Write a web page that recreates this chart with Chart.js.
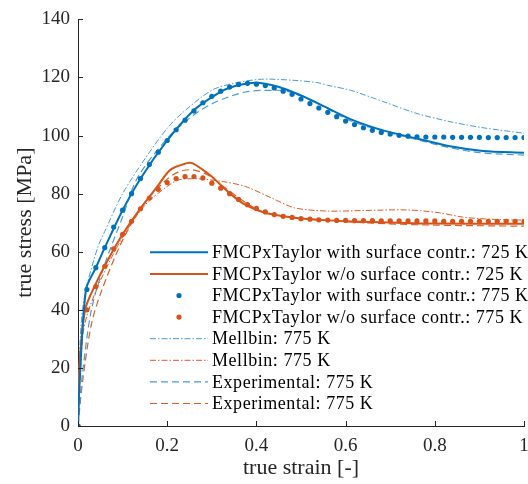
<!DOCTYPE html>
<html>
<head>
<meta charset="utf-8">
<script src="https://cdn.jsdelivr.net/npm/chart.js@4.4.1/dist/chart.umd.min.js"></script>
<style>
  html, body { margin: 0; padding: 0; background: #fff; }
  #wrap { width: 528px; height: 484px; }
</style>
</head>
<body>
<div id="wrap"><canvas id="stressStrain" width="528" height="484"></canvas></div>
<script>
var Blue = '#0072BD';
var Orange = '#D95319';
var LightBlue = '#4a9bd6';
var LightOrange = '#de5d24';

// FMCPxTaylor with surface contr.: 725 K (solid blue)
var withSurf725Strain = [0, 0.004, 0.018, 0.04, 0.06, 0.1, 0.141, 0.198, 0.256, 0.301, 0.338, 0.397, 0.449, 0.5, 0.545, 0.612, 0.686, 0.76, 0.834, 0.908, 1.0];
var withSurf725Stress = [0, 16, 47, 54.5, 61.4, 74.3, 85.4, 97.9, 108.2, 113.3, 116.4, 118.2, 116.8, 113.8, 110.6, 105.6, 101.7, 99, 96.3, 94.7, 94.1];

// FMCPxTaylor w/o surface contr.: 725 K (solid orange)
var woSurf725Strain = [0, 0.003, 0.016, 0.04, 0.07, 0.1, 0.141, 0.178, 0.207, 0.244, 0.256, 0.28, 0.3, 0.316, 0.345, 0.375, 0.419, 0.486, 0.56, 0.641, 0.79, 1.0];
var woSurf725Stress = [0, 20, 40, 49, 58, 66, 75.1, 82.5, 88.2, 90.5, 90.5, 88.2, 85.9, 83.6, 79.5, 76.2, 73.4, 71.7, 70.8, 70.3, 69.7, 69.6];

// dot series, sampled every 0.02 strain
var dotStrain = [0, 0.02, 0.04, 0.06, 0.08, 0.1, 0.12, 0.14, 0.16, 0.18, 0.2, 0.22, 0.24, 0.26, 0.28, 0.3, 0.32, 0.34, 0.36, 0.38, 0.4,
  0.42, 0.44, 0.46, 0.48, 0.5, 0.52, 0.54, 0.56, 0.58, 0.6, 0.62, 0.64, 0.66, 0.68, 0.7, 0.72, 0.74, 0.76, 0.78, 0.8,
  0.82, 0.84, 0.86, 0.88, 0.9, 0.92, 0.94, 0.96, 0.98, 1.0];
var withSurf775Stress = [0, 47, 54.5, 61.4, 68.5, 74.3, 80, 85.2, 90, 94.3, 98.3, 102, 105.3, 108.5, 111.3, 113.5, 115.3, 116.7, 117.6, 118, 117.7,
  117.2, 116.4, 115.3, 114.2, 112.6, 111, 109.5, 108, 106.5, 105, 103.8, 102.7, 101.8, 101.1, 100.5, 100.1, 99.8, 99.6, 99.5, 99.5,
  99.5, 99.4, 99.4, 99.4, 99.4, 99.3, 99.3, 99.3, 99.3, 99.3];
var woSurf775Stress = [0, 40, 48, 55, 61, 66, 70.5, 74.8, 78.5, 81.5, 83.8, 85.2, 85.9, 85.9, 85.4, 83.6, 81.9, 80, 78, 76.2, 74.9,
  73.7, 72.8, 72.2, 71.8, 71.4, 71.2, 71, 70.9, 70.8, 70.8, 70.7, 70.7, 70.7, 70.6, 70.6, 70.6, 70.6, 70.6, 70.6, 70.6,
  70.5, 70.5, 70.5, 70.5, 70.5, 70.5, 70.5, 70.5, 70.5, 70.5];

// Mellbin: 775 K (blue dash-dot)
var mellbinBlueStrain = [0, 0.005, 0.015, 0.044, 0.06, 0.1, 0.15, 0.2, 0.237, 0.3, 0.35, 0.411, 0.486, 0.538, 0.56, 0.611, 0.686, 0.76, 0.834, 0.908, 1.0];
var mellbinBlueStress = [0, 30, 45, 61.4, 67, 80, 92, 102.5, 108.2, 115.6, 118, 119.4, 119, 118.2, 117.3, 115.6, 111.6, 107.6, 104.8, 102.7, 100.8];

// Mellbin: 775 K (orange dash-dot)
var mellbinOrangeStrain = [0, 0.01, 0.02, 0.05, 0.1, 0.15, 0.2, 0.227, 0.271, 0.323, 0.375, 0.434, 0.486, 0.56, 0.641, 0.738, 0.811, 0.864, 0.938, 1.0];
var mellbinOrangeStress = [0, 30, 38, 50, 65, 76, 82.5, 84.8, 85.1, 84.2, 82.5, 78.5, 75.1, 74, 74.2, 74.4, 73.4, 71.9, 71.1, 70.9];

// Experimental: 775 K (blue dashed)
var expBlueStrain = [0, 0.01, 0.03, 0.056, 0.1, 0.133, 0.2, 0.25, 0.301, 0.375, 0.441, 0.471, 0.538, 0.612, 0.686, 0.76, 0.834, 0.908, 1.0];
var expBlueStress = [0, 18, 40, 54, 72, 85.4, 99, 106, 111, 115, 115.6, 115.2, 111, 105, 101.5, 98.6, 95.8, 94, 93.3];

// Experimental: 775 K (orange dashed)
var expOrangeStrain = [0, 0.01, 0.03, 0.053, 0.1, 0.15, 0.2, 0.227, 0.256, 0.29, 0.33, 0.38, 0.42, 0.5, 0.641, 0.79, 1.0];
var expOrangeStress = [0, 15, 35, 46.6, 64, 77, 85, 87.6, 88.2, 86.5, 82, 76.5, 73.5, 71.5, 70, 69.2, 68.8];

var xTicks = [0, 0.2, 0.4, 0.6, 0.8, 1];
var yTicks = [0, 20, 40, 60, 80, 100, 120, 140];

function pts(xs, ys) {
    return xs.map(function (x, i) { return { x: x, y: ys[i] }; });
}

var SERIF = '"Liberation Serif", "DejaVu Serif", serif';
var AxisColor = '#262626';

// MATLAB-like ticks drawn inward, plus the legend inside the axes
var matlabBits = {
    id: 'matlabBits',
    afterDraw: function (chart) {
        var c = chart.ctx, a = chart.chartArea;
        var xs = chart.scales.x, ys = chart.scales.y;
        c.save();
        c.strokeStyle = AxisColor;
        c.lineWidth = 1;
        c.beginPath();
        xTicks.forEach(function (t) {
            var px = Math.round(xs.getPixelForValue(t)) + 0.5;
            c.moveTo(px, a.bottom);
            c.lineTo(px, a.bottom - 5);
        });
        yTicks.forEach(function (t) {
            var py = Math.round(ys.getPixelForValue(t)) + 0.5;
            c.moveTo(a.left, py);
            c.lineTo(a.left + 5, py);
        });
        c.stroke();

        // legend
        var x0 = 150, x1 = 208, top = 252.3, step = 21.6;
        c.font = '18px ' + SERIF;
        c.letterSpacing = '0.55px';
        c.textBaseline = 'middle';
        c.fillStyle = '#000';
        chart.data.datasets.forEach(function (ds, i) {
            var y = top + i * step;
            if (ds.showLine) {
                c.strokeStyle = ds.borderColor;
                c.lineWidth = ds.borderWidth;
                c.setLineDash(ds.borderDash || []);
                c.beginPath();
                c.moveTo(x0, y);
                c.lineTo(x1, y);
                c.stroke();
                c.setLineDash([]);
            } else {
                c.fillStyle = ds.backgroundColor;
                c.beginPath();
                c.arc((x0 + x1) / 2, y, ds.pointRadius, 0, Math.PI * 2);
                c.fill();
            }
            c.fillStyle = '#000';
            c.fillText(ds.label, 212, y + 1);
        });
        c.restore();
    }
};

var ctx1 = document.getElementById('stressStrain');

var chart1 = new Chart(ctx1, {
    type: 'scatter',
    plugins: [matlabBits],
    data: {
        datasets: [
            {
                label: 'FMCPxTaylor with surface contr.: 725 K',
                data: pts(withSurf725Strain, withSurf725Stress),
                showLine: true, borderColor: Blue, borderWidth: 2, pointRadius: 0, tension: 0.3
            },
            {
                label: 'FMCPxTaylor w/o surface contr.: 725 K',
                data: pts(woSurf725Strain, woSurf725Stress),
                showLine: true, borderColor: Orange, borderWidth: 2, pointRadius: 0, tension: 0.3
            },
            {
                label: 'FMCPxTaylor with surface contr.: 775 K',
                data: pts(dotStrain, withSurf775Stress),
                showLine: false, backgroundColor: Blue, borderWidth: 0, pointRadius: 2.6
            },
            {
                label: 'FMCPxTaylor w/o surface contr.: 775 K',
                data: pts(dotStrain, woSurf775Stress),
                showLine: false, backgroundColor: Orange, borderWidth: 0, pointRadius: 2.6
            },
            {
                label: 'Mellbin: 775 K',
                data: pts(mellbinBlueStrain, mellbinBlueStress),
                showLine: true, borderColor: LightBlue, borderWidth: 1, borderDash: [6, 2, 1.5, 2], pointRadius: 0, tension: 0.3
            },
            {
                label: 'Mellbin: 775 K',
                data: pts(mellbinOrangeStrain, mellbinOrangeStress),
                showLine: true, borderColor: LightOrange, borderWidth: 1, borderDash: [6, 2, 1.5, 2], pointRadius: 0, tension: 0.3
            },
            {
                label: 'Experimental: 775 K',
                data: pts(expBlueStrain, expBlueStress),
                showLine: true, borderColor: LightBlue, borderWidth: 1.2, borderDash: [7, 4], pointRadius: 0, tension: 0.3
            },
            {
                label: 'Experimental: 775 K',
                data: pts(expOrangeStrain, expOrangeStress),
                showLine: true, borderColor: LightOrange, borderWidth: 1.2, borderDash: [7, 4], pointRadius: 0, tension: 0.3
            }
        ]
    },
    options: {
        responsive: false,
        animation: false,
        layout: { padding: { top: 17, right: 0, left: 0, bottom: 0 } },
        plugins: {
            legend: { display: false },
            tooltip: { enabled: false }
        },
        scales: {
            x: {
                type: 'linear',
                min: 0, max: 1,
                afterBuildTicks: function (s) { s.ticks = xTicks.map(function (v) { return { value: v }; }); },
                afterFit: function (s) { s.height = 58; s.paddingLeft = 0; s.paddingRight = 0; },
                grid: { display: false, drawTicks: false },
                border: { display: true, color: AxisColor, width: 1 },
                ticks: {
                    color: AxisColor, padding: 9, maxRotation: 0,
                    font: { family: SERIF, size: 19 },
                    callback: function (v) { return String(+v.toFixed(1)); }
                },
                title: {
                    display: true, text: 'true strain [-]', color: AxisColor,
                    font: { family: SERIF, size: 22 }, padding: { top: 0, bottom: 3 }
                }
            },
            y: {
                type: 'linear',
                min: 0, max: 140,
                afterBuildTicks: function (s) { s.ticks = yTicks.map(function (v) { return { value: v }; }); },
                afterFit: function (s) { s.width = 78; },
                grid: { display: false, drawTicks: false },
                border: { display: true, color: AxisColor, width: 1 },
                ticks: {
                    color: AxisColor, padding: 8,
                    font: { family: SERIF, size: 19 }
                },
                title: {
                    display: true, text: 'true stress [MPa]', color: AxisColor,
                    font: { family: SERIF, size: 22 }, padding: { top: 12, bottom: 0 }
                }
            }
        }
    }
});
</script>
</body>
</html>
